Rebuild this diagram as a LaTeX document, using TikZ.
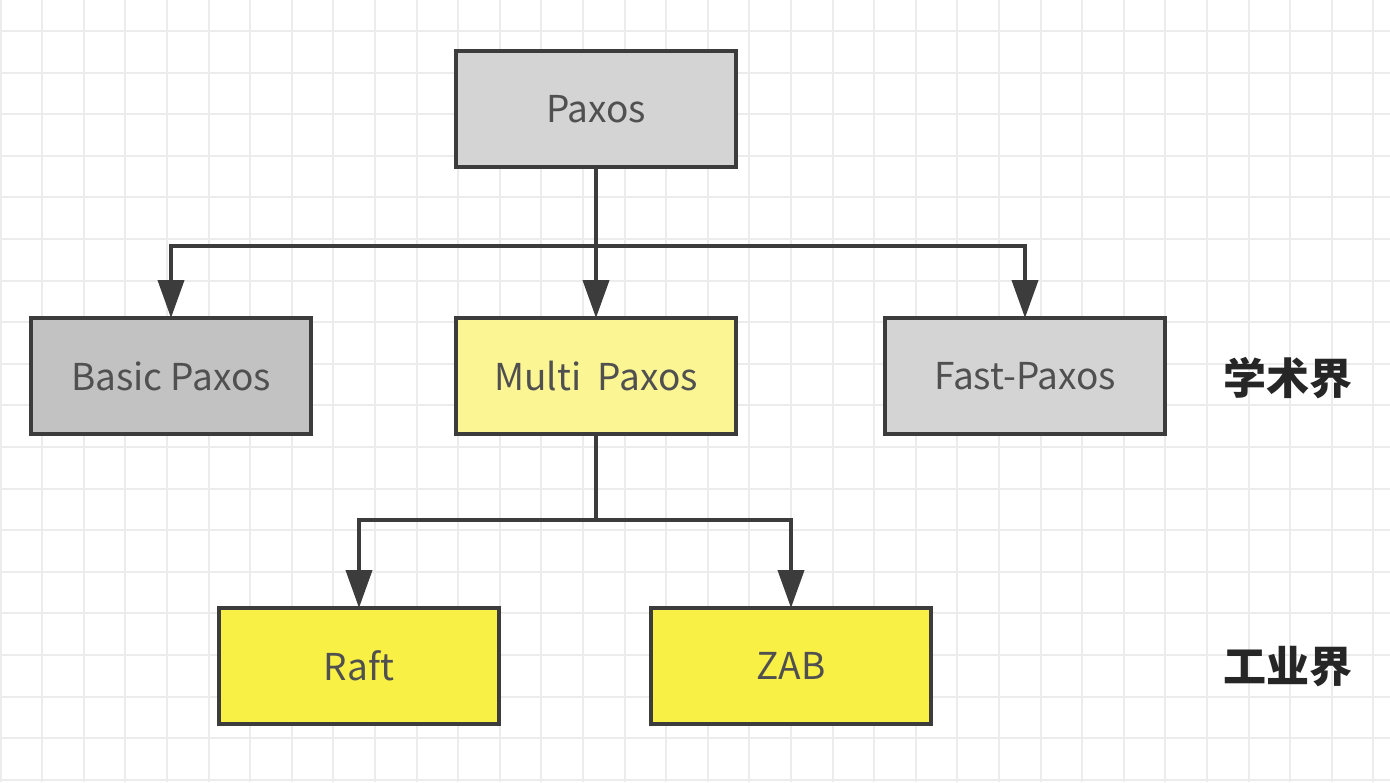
\documentclass[tikz,border=0pt]{standalone}
\usepackage{fontspec}
\setmainfont{Noto Sans CJK SC}
\newfontfamily\cjkfont{Noto Sans CJK SC}
\usetikzlibrary{arrows.meta}
\definecolor{gridc}{HTML}{ECECEC}
\definecolor{linec}{HTML}{3C3C3C}
\definecolor{txtc}{HTML}{505050}
\definecolor{lgray}{HTML}{D4D4D4}
\definecolor{dgray}{HTML}{C2C2C2}
\definecolor{pyellow}{HTML}{FBF593}
\definecolor{syellow}{HTML}{F8F044}
\tikzset{
  box/.style={draw=linec, line width=1.6pt, minimum width=140pt, minimum height=58pt, outer sep=0pt, inner sep=0pt, text=txtc, font=\fontsize{18.5pt}{22pt}\selectfont},
  conn/.style={draw=linec, line width=2pt},
  arr/.style={conn, -{Triangle[width=13pt,length=19pt]}},
  side/.style={font=\cjkfont\bfseries\fontsize{21.5pt}{26pt}\selectfont, text=black!85}
}
\begin{document}
\begin{tikzpicture}[x=0.5pt,y=-0.5pt]
\useasboundingbox (0,0) rectangle (1390,782);
\fill[white] (0,0) rectangle (1390,782);
\foreach \i in {0,...,34} {
  \draw[gridc, line width=1pt] ({0.5+41.6*\i},0) -- ({0.5+41.6*\i},782);
}
\foreach \j in {0,...,18} {
  \draw[gridc, line width=1pt] (0,{31+41.6*\j}) -- (1390,{31+41.6*\j});
}
\node[box, fill=lgray] (paxos) at (596,109) {Paxos};
\node[box, fill=dgray] (basic) at (171,376) {Basic Paxos};
\node[box, fill=pyellow] (multi) at (596,376) {Multi\ \ Paxos};
\node[box, fill=lgray] (fast) at (1025,376) {Fast-Paxos};
\node[box, fill=syellow] (raft) at (359,666) {Raft};
\node[box, fill=syellow] (zab) at (791,666) {ZAB};
\node[side] (acad) at (1288,378) {学术界};
\node[side] (ind) at (1288,667) {工业界};
\coordinate (j1) at (596,246);
\coordinate (j2) at (596,520);
\draw[conn] (paxos.south) -- (j1);
\draw[arr] (j1) -| (basic.north);
\draw[arr] (j1) -- (multi.north);
\draw[arr] (j1) -| (fast.north);
\draw[conn] (multi.south) -- (j2);
\draw[arr] (j2) -| (raft.north);
\draw[arr] (j2) -| (zab.north);
\end{tikzpicture}
\end{document}
